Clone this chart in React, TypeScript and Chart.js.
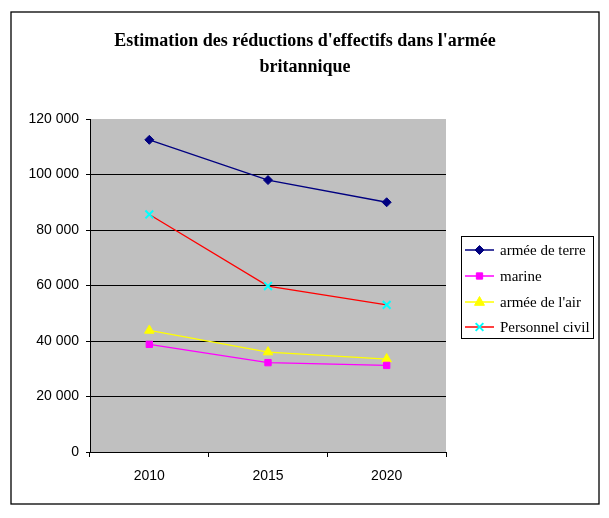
import React, { useEffect, useRef } from "react";
import { Chart, registerables } from "chart.js";

Chart.register(...registerables);

const categories = ["2010", "2015", "2020"];
const armeeDeTerre = [112500, 98000, 90000];
const marine = [38800, 32200, 31200];
const armeeDeLAir = [43800, 36000, 33500];
const personnelCivil = [85600, 59800, 53000];
const yTicks = [0, 20000, 40000, 60000, 80000, 100000, 120000];
const titleLines = ["Estimation des réductions d'effectifs dans l'armée", "britannique"];

const fmt = (v: number) => String(v).replace(/\B(?=(\d{3})+(?!\d))/g, " ");

function drawPointShape(ctx: CanvasRenderingContext2D, style: string, r: number, x: number, y: number) {
  ctx.beginPath();
  if (style === "rectRot") {
    ctx.moveTo(x, y - r);
    ctx.lineTo(x + r, y);
    ctx.lineTo(x, y + r);
    ctx.lineTo(x - r, y);
    ctx.closePath();
    ctx.fill();
    ctx.stroke();
  } else if (style === "rect") {
    ctx.rect(x - r * 0.7, y - r * 0.7, r * 1.4, r * 1.4);
    ctx.fill();
    ctx.stroke();
  } else if (style === "triangle") {
    ctx.moveTo(x, y - r);
    ctx.lineTo(x + r * 0.9, y + r * 0.6);
    ctx.lineTo(x - r * 0.9, y + r * 0.6);
    ctx.closePath();
    ctx.fill();
    ctx.stroke();
  } else if (style === "crossRot") {
    const d = r * 0.7;
    ctx.moveTo(x - d, y - d);
    ctx.lineTo(x + d, y + d);
    ctx.moveTo(x + d, y - d);
    ctx.lineTo(x - d, y + d);
    ctx.stroke();
  }
}

const framePlugin = {
  id: "frame",
  beforeDraw(chart: any) {
    const { ctx, chartArea } = chart;
    ctx.save();
    ctx.fillStyle = "#ffffff";
    ctx.fillRect(0, 0, chart.width, chart.height);
    ctx.fillStyle = "#c0c0c0";
    ctx.fillRect(chartArea.left, chartArea.top, chartArea.right - chartArea.left, chartArea.bottom - chartArea.top);
    ctx.strokeStyle = "#000";
    ctx.lineWidth = 1.3;
    ctx.strokeRect(11, 12, 588, 492);
    ctx.restore();
  },
  afterDraw(chart: any) {
    const { ctx } = chart;
    ctx.save();
    ctx.fillStyle = "#000";
    ctx.textAlign = "center";
    ctx.textBaseline = "alphabetic";
    ctx.font = "bold 18px 'Liberation Serif', 'Times New Roman', serif";
    ctx.fillText(titleLines[0], 305, 46);
    ctx.fillText(titleLines[1], 305, 72);
    const lx = 461, ly = 236, lw = 132, lh = 102;
    ctx.fillStyle = "#fff";
    ctx.fillRect(lx, ly, lw, lh);
    ctx.strokeStyle = "#000";
    ctx.lineWidth = 1;
    ctx.strokeRect(lx + 0.5, ly + 0.5, lw, lh);
    const rows = [250, 276, 302, 327];
    ctx.font = "15px 'Liberation Serif', 'Times New Roman', serif";
    ctx.textAlign = "left";
    ctx.textBaseline = "middle";
    chart.data.datasets.forEach((ds: any, i: number) => {
      const y = rows[i];
      ctx.strokeStyle = ds.borderColor;
      ctx.lineWidth = 1.5;
      ctx.beginPath();
      ctx.moveTo(465, y);
      ctx.lineTo(494, y);
      ctx.stroke();
      ctx.fillStyle = ds.pointBackgroundColor;
      ctx.strokeStyle = ds.pointBorderColor;
      ctx.lineWidth = ds.pointBorderWidth;
      drawPointShape(ctx, ds.pointStyle, ds.pointRadius, 479.5, y);
      ctx.fillStyle = "#000";
      ctx.fillText(ds.label, 500, y + 1);
    });
    ctx.restore();
  },
};

export default function App() {
  const ref = useRef<HTMLCanvasElement | null>(null);
  useEffect(() => {
    if (!ref.current) return;
    const chart = new Chart(ref.current, {
      type: "line",
      data: {
        labels: categories,
        datasets: [
          {
            label: "armée de terre",
            data: armeeDeTerre,
            borderColor: "#000080",
            backgroundColor: "#000080",
            pointBackgroundColor: "#000080",
            pointBorderColor: "#000080",
            pointBorderWidth: 1,
            pointStyle: "rectRot",
            pointRadius: 4.5,
            borderWidth: 1.3,
          },
          {
            label: "marine",
            data: marine,
            borderColor: "#ff00ff",
            backgroundColor: "#ff00ff",
            pointBackgroundColor: "#ff00ff",
            pointBorderColor: "#ff00ff",
            pointBorderWidth: 1,
            pointStyle: "rect",
            pointRadius: 4.5,
            borderWidth: 1.3,
          },
          {
            label: "armée de l'air",
            data: armeeDeLAir,
            borderColor: "#ffff00",
            backgroundColor: "#ffff00",
            pointBackgroundColor: "#ffff00",
            pointBorderColor: "#ffff00",
            pointBorderWidth: 1,
            pointStyle: "triangle",
            pointRadius: 5.5,
            borderWidth: 1.3,
          },
          {
            label: "Personnel civil",
            data: personnelCivil,
            borderColor: "#ff0000",
            backgroundColor: "#00ffff",
            pointBackgroundColor: "#00ffff",
            pointBorderColor: "#00ffff",
            pointBorderWidth: 2,
            pointStyle: "crossRot",
            pointRadius: 5.5,
            borderWidth: 1.3,
          },
        ],
      },
      options: {
        animation: false,
        responsive: false,
        layout: { padding: { left: 10, right: 163, top: 119, bottom: 26 } },
        plugins: {
          legend: { display: false },
          title: { display: false },
          tooltip: { enabled: false },
        },
        scales: {
          x: {
            offset: true,
            grid: {
              offset: true,
              drawOnChartArea: false,
              drawTicks: true,
              tickLength: 5,
              tickColor: "#000",
              lineWidth: 1,
            },
            border: { display: true, color: "#000", width: 1 },
            ticks: {
              color: "#000",
              padding: 11,
              font: { family: "'Liberation Sans', Arial, sans-serif", size: 14 },
            },
            afterFit: (s: any) => {
              s.height = 40;
            },
          },
          y: {
            min: 0,
            max: 120000,
            afterBuildTicks: (s: any) => {
              s.ticks = yTicks.map((v) => ({ value: v }));
            },
            grid: {
              color: (c: any) => (c.tick && c.tick.value === 120000 ? "rgba(0,0,0,0)" : "#000"),
              tickColor: "#000",
              tickLength: 4,
              lineWidth: 1,
            },
            border: { display: true, color: "#000", width: 1 },
            ticks: {
              color: "#000",
              padding: 7,
              font: { family: "'Liberation Sans', Arial, sans-serif", size: 14 },
              callback: (v: any) => fmt(Number(v)),
            },
            afterFit: (s: any) => {
              s.width = 80;
            },
          },
        },
      },
      plugins: [framePlugin],
    });
    return () => chart.destroy();
  }, []);
  return (
    <div style={{ position: "fixed", left: 0, top: 0, width: 609, height: 518 }}>
      <canvas ref={ref} width={609} height={518} style={{ width: 609, height: 518, display: "block" }} />
    </div>
  );
}
